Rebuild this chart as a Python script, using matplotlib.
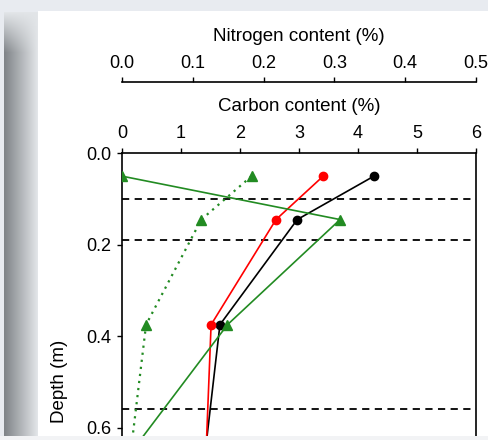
import numpy as np
import matplotlib
matplotlib.use("Agg")
import matplotlib.pyplot as plt
from matplotlib.patches import Rectangle

plt.rcParams['font.family'] = ['Liberation Sans', 'DejaVu Sans']

# Soil profile data: depth (m) and content (%)
depth = [0.05, 0.145, 0.375, 0.80]
carbon_a = [4.27, 2.97, 1.66, 1.28]     # black circles
carbon_b = [3.41, 2.61, 1.51, 1.38]     # red circles
depth_n = [0.05, 0.145, 0.375, 0.66]
nitrogen_a = [0.000, 0.308, 0.149, 0.010]   # green solid triangles
depth_nb = [0.05, 0.145, 0.375, 0.80]
nitrogen_b = [0.183, 0.112, 0.034, 0.001]   # green dotted triangles
horizons = [0.10, 0.19, 0.56]

carbon_ticks = [0, 1, 2, 3, 4, 5, 6]
nitrogen_ticks = [0.0, 0.1, 0.2, 0.3, 0.4, 0.5]
depth_ticks = [0.0, 0.2, 0.4, 0.6]

FS = 13
W, H = 489, 440
fig = plt.figure(figsize=(W / 100, H / 100), dpi=100)

# page background with shaded left margin
bg = np.ones((H, W, 3))
bg[:, :, :] = np.array([0xe8, 0xeb, 0xf0]) / 255
bg[11:436, 38:, :] = 1.0
x0, x1 = 4, 38
t = np.linspace(0, 1, x1 - x0)
dark = np.array([0x80, 0x84, 0x88]) / 255
light = np.array([0xe2, 0xe5, 0xe8]) / 255
strip = dark[None, :] * (1 - t[:, None]) + light[None, :] * t[:, None]
for r in range(12, 436):
    f = min(1.0, (r - 12) / 40.0)
    bg[r, x0:x1, :] = light * (1 - f) + strip * f
fig.figimage(bg, xo=0, yo=0, origin='upper', zorder=-5)

px_per_m = 457.0
top_px = 153.3
ax_h = px_per_m * 1.0
ax = fig.add_axes([122 / W, (H - top_px - ax_h) / H, (476 - 122) / W, ax_h / H])
ax.set_facecolor('white')

# nitrogen axis above (created first; twiny resets the host tick side)
ax2 = ax.twiny()

ax.set_xlim(0, 6)
ax.set_ylim(1.0, 0.0)
ax.xaxis.tick_top()
ax.xaxis.set_label_position('top')
ax.set_xticks(carbon_ticks)
ax.set_xticklabels([str(v) for v in carbon_ticks])
ax.set_yticks(depth_ticks)
ax.set_yticklabels([f"{v:.1f}" for v in depth_ticks])
ax.set_xlabel('Carbon content (%)', fontsize=13.5, labelpad=10.5)
ax.set_ylabel('Depth (m)', fontsize=13.5, labelpad=13)
ax.tick_params(axis='both', direction='out', length=3.5, width=1, labelsize=FS, pad=4.5, color='black')
for s in ['top', 'left', 'right']:
    ax.spines[s].set_linewidth(1.2)
ax.spines['bottom'].set_visible(False)

for hz in horizons:
    ax.axhline(hz, color='black', lw=1.3, ls=(0, (4, 3)), zorder=1)

ax.plot(carbon_a, depth, color='black', lw=1.2, marker='o', ms=6, zorder=3)
ax.plot(carbon_b, depth, color='red', lw=1.2, marker='o', ms=6, zorder=3)

ax2.set_xlim(0, 0.5)
ax2.set_ylim(1.0, 0.0)
ax2.xaxis.set_ticks_position('top')
ax2.xaxis.set_label_position('top')
ax2.spines['top'].set_position(('outward', 51))
ax2.spines['top'].set_linewidth(1.2)
for s in ['left', 'right', 'bottom']:
    ax2.spines[s].set_visible(False)
ax2.set_xticks(nitrogen_ticks)
ax2.set_xticklabels([f"{v:.1f}" for v in nitrogen_ticks])
ax2.tick_params(axis='x', direction='out', length=3.5, width=1, labelsize=FS, pad=4)
ax2.set_xlabel('Nitrogen content (%)', fontsize=13.5, labelpad=10)

ax2.plot(nitrogen_a, depth_n, color='#228b22', lw=1.2, marker='^', ms=7, zorder=3)
ax2.plot(nitrogen_b, depth_nb, color='#228b22', lw=1.6, ls=(0, (1, 2.2)),
         marker='^', ms=7, zorder=3)

# bottom page edge
fig.patches.append(Rectangle((0, 0), 1, 4 / H, transform=fig.transFigure,
                             facecolor='#f2f3f5', edgecolor='none', zorder=10))

fig.savefig('out.png', dpi=100)
